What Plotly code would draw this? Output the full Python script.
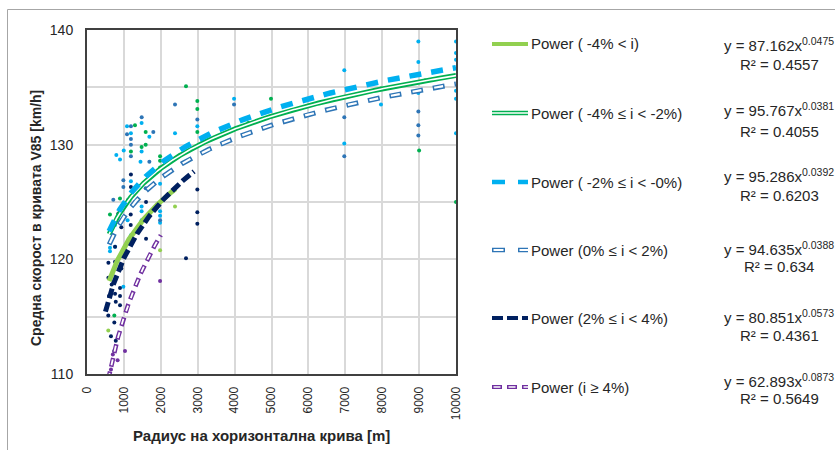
import numpy as np
import plotly.graph_objects as go

# ---------------- data ----------------
series_names = ["Power ( -4% < i)", "Power ( -4% ≤ i < -2%)", "Power ( -2% ≤ i < -0%)",
                "Power (0% ≤ i < 2%)", "Power (2% ≤ i < 4%)", "Power (i ≥ 4%)"]
colors = ["#92D050", "#00B050", "#00B0F0", "#2E75B6", "#002060", "#7030A0"]

# trendline coefficients y = a * x^b, and x extent of each trendline
coef_a = [87.162, 95.767, 95.286, 94.635, 80.851, 62.893]
coef_b = [0.0475, 0.0381, 0.0392, 0.0388, 0.0573, 0.0873]
r2_text = ["0.4557", "0.4055", "0.6203", "0.634", "0.4361", "0.5649"]
x_start = [600, 600, 600, 600, 500, 570]
x_end = [2400, 10000, 10000, 10000, 2900, 2000]

# observed points (radius m, V85 km/h)
pts_x_1 = [577, 1980, 2385]
pts_y_1 = [113.8, 120.8, 124.6]

pts_x_2 = [623, 894, 740, 1190, 1300, 1480, 1590, 1590, 1980, 1980, 1980, 2683, 2990, 2990, 2990,
           3135, 4371, 4986, 5547, 6767, 7967, 9160, 9000, 10000]
pts_y_2 = [123.9, 125.3, 115.1, 129.4, 131.7, 129.8, 131.1, 130.0, 129.0, 128.6, 128.0, 135.1, 133.8, 133.1, 131.1,
           130.2, 131.9, 134.0, 133.0, 134.0, 134.9, 135.6, 129.5, 125.0]

pts_x_3 = [795, 895, 995, 1084, 1190, 1480, 1690, 1480, 1190, 1980, 2385, 1480, 1480, 1480, 1100, 760,
           1190, 623, 623, 760, 1450, 1980, 1980, 1980, 2990, 3985, 6973, 6973, 7967, 8980, 8980, 8980,
           10000, 10000, 10000, 10000, 10000, 10000, 985]
pts_y_3 = [129.1, 128.7, 129.5, 131.6, 131.0, 131.9, 130.7, 129.4, 126.8, 126.6, 131.0, 124.6, 124.2, 123.4, 123.4, 123.0,
           122.1, 121.0, 120.7, 121.1, 128.5, 124.2, 123.8, 123.2, 131.6, 134.0, 136.5, 130.1, 133.5, 139.0, 137.2, 134.5,
           139.0, 138.0, 137.4, 134.7, 134.0, 131.0, 117.6]

pts_x_4 = [1482, 1190, 1084, 1190, 1190, 1190, 1797, 1690, 985, 985, 1590, 2385, 2990, 3985, 6973, 6973,
           8980, 8980, 8980, 713, 1980]
pts_y_4 = [132.4, 131.6, 130.9, 130.5, 130.0, 129.0, 131.1, 128.5, 126.9, 126.3, 126.2, 133.5, 132.2, 133.5, 132.4, 129.0,
           132.9, 131.7, 130.8, 125.2, 123.4]

pts_x_5 = [1190, 1190, 1120, 1300, 1600, 1185, 850, 1185, 930, 1600, 760, 760, 580, 930, 580, 670, 895, 596, 760,
           895, 780, 895, 577, 740, 650, 780, 740, 2990, 2990, 2990, 2683]
pts_y_5 = [127.4, 126.3, 125.2, 125.0, 125.0, 123.9, 124.0, 123.0, 122.8, 121.8, 121.1, 119.8, 119.7, 119.2, 118.4, 117.8,
           117.5, 116.8, 117.0, 116.8, 116.3, 116.0, 115.1, 114.5, 113.3, 112.9, 112.0, 126.1, 124.1, 123.1, 120.1]

pts_x_6 = [1980, 1030, 830, 700, 650]
pts_y_6 = [118.1, 112.0, 111.2, 111.7, 110.4]

x_ticks = [0, 1000, 2000, 3000, 4000, 5000, 6000, 7000, 8000, 9000, 10000]
x_tick_text = ["0", "1000", "2000", "3000", "4000", "5000", "6000", "7000", "8000", "9000", "10000"]
y_ticks = [110, 115, 120, 125, 130, 135, 140]
y_tick_text = ["110", "", "120", "", "130", "", "140"]

x_title = "Радиус на хоризонтална крива [m]"
y_title = "Средна скорост в кривата V85 [km/h]"

# ---------------- layout geometry ----------------
W, H = 835, 450
PL, PR, PT, PB = 87, 456, 30, 374   # plot area in px


def px2x(px):
    return (px - PL) / (PR - PL)


def py2y(py):
    return (PB - py) / (PB - PT)


FONT = "Arial, Liberation Sans, sans-serif"
TXT = "#262626"

fig = go.Figure()

all_px = [pts_x_1, pts_x_2, pts_x_3, pts_x_4, pts_x_5, pts_x_6]
all_py = [pts_y_1, pts_y_2, pts_y_3, pts_y_4, pts_y_5, pts_y_6]
for i in range(6):
    fig.add_trace(go.Scatter(x=all_px[i], y=all_py[i], mode="markers",
                             marker=dict(color=colors[i], size=4, line=dict(width=0)),
                             showlegend=False, cliponaxis=True))

# trendline styles: (outer width, outer dash, inner white width, inner dash)
styles = [
    (5, "solid", 0, None),
    (5, "solid", 1.6, "solid"),
    (5.5, "12px,10px", 0, None),
    (5, "12px,10px", 2.2, "0px,1.5px,9px,11.5px"),
    (5, "10px,4px", 0, None),
    (4.5, "9px,5px", 1.8, "0px,1.5px,6px,6.5px"),
]

for i in range(6):
    xs = np.geomspace(x_start[i], x_end[i], 400)
    ys = coef_a[i] * xs ** coef_b[i]
    ow, od, iw, idash = styles[i]
    fig.add_trace(go.Scatter(x=xs, y=ys, mode="lines",
                             line=dict(color=colors[i], width=ow, dash=od),
                             showlegend=False, hoverinfo="skip"))
    if iw:
        fig.add_trace(go.Scatter(x=xs, y=ys, mode="lines",
                                 line=dict(color="white", width=iw, dash=idash),
                                 showlegend=False, hoverinfo="skip"))

# ---------------- custom legend + equations ----------------
shapes = []
annotations = []
row_y = [44, 113, 182, 250, 318, 387]
eq_y = [45, 110, 175, 248, 316, 380]
r2_y = [65, 131, 195, 266, 335, 399]
leg_styles = [
    (4, "solid", 0, None),
    (4.5, "solid", 1.6, "solid"),
    (4.5, "13px,13px", 0, None),
    (4.5, "13px,13px", 2.0, "0px,1.5px,10px,14.5px"),
    (4, "11px,4px", 0, None),
    (4, "10px,5px", 1.6, "0px,1.5px,7px,6.5px"),
]
for i in range(6):
    ow, od, iw, idash = leg_styles[i]
    y0 = py2y(row_y[i])
    shapes.append(dict(type="line", xref="paper", yref="paper", x0=px2x(492), x1=px2x(528),
                       y0=y0, y1=y0, line=dict(color=colors[i], width=ow, dash=od)))
    if iw:
        shapes.append(dict(type="line", xref="paper", yref="paper", x0=px2x(492), x1=px2x(528),
                           y0=y0, y1=y0, line=dict(color="white", width=iw, dash=idash)))
    annotations.append(dict(text=series_names[i], xref="paper", yref="paper", x=px2x(529), y=y0,
                            xanchor="left", yanchor="middle", showarrow=False,
                            font=dict(family=FONT, size=15, color=TXT)))
    annotations.append(dict(text=f"y = {coef_a[i]:.3f}x<sup>{coef_b[i]:.4f}</sup>", xref="paper", yref="paper",
                            x=px2x(779), y=py2y(eq_y[i]), xanchor="center", yanchor="middle",
                            showarrow=False, font=dict(family=FONT, size=15, color=TXT)))
    annotations.append(dict(text=f"R² = {r2_text[i]}", xref="paper", yref="paper",
                            x=px2x(779), y=py2y(r2_y[i]), xanchor="center", yanchor="middle",
                            showarrow=False, font=dict(family=FONT, size=15, color=TXT)))

# axis titles
annotations.append(dict(text=f"<b>{x_title}</b>", xref="paper", yref="paper", x=px2x(261), y=py2y(435),
                        xanchor="center", yanchor="middle", showarrow=False,
                        font=dict(family=FONT, size=15, color=TXT)))
annotations.append(dict(text=f"<b>{y_title}</b>", xref="paper", yref="paper", x=px2x(36), y=py2y(218),
                        xanchor="center", yanchor="middle", showarrow=False, textangle=-90,
                        font=dict(family=FONT, size=14, color=TXT)))

# outer chart border
shapes.append(dict(type="rect", xref="paper", yref="paper", x0=px2x(7.5), x1=px2x(900),
                   y0=py2y(600), y1=py2y(9.5), line=dict(color="#A6A6A6", width=1), layer="below"))

fig.update_layout(
    width=W, height=H,
    margin=dict(l=PL, r=W - PR, t=PT, b=H - PB, pad=0),
    paper_bgcolor="white", plot_bgcolor="white",
    shapes=shapes, annotations=annotations,
    showlegend=False,
    font=dict(family=FONT, color=TXT),
    xaxis=dict(range=[0, 10000], tickvals=x_ticks, ticktext=x_tick_text, tickangle=-90, showgrid=True,
               gridcolor="#D9D9D9", gridwidth=1.5, showline=True, linecolor="#404040", linewidth=2,
               mirror=True, ticks="", ticklabelstandoff=6, zeroline=False,
               tickfont=dict(family=FONT, size=12, color=TXT)),
    yaxis=dict(range=[110, 140], tickvals=y_ticks, ticktext=y_tick_text, showgrid=True,
               gridcolor="#D9D9D9", gridwidth=1.5, showline=True, linecolor="#404040", linewidth=2,
               mirror=True, ticks="", ticklabelstandoff=9, zeroline=False,
               tickfont=dict(family=FONT, size=14, color=TXT)),
)

fig.write_html("out.html")
